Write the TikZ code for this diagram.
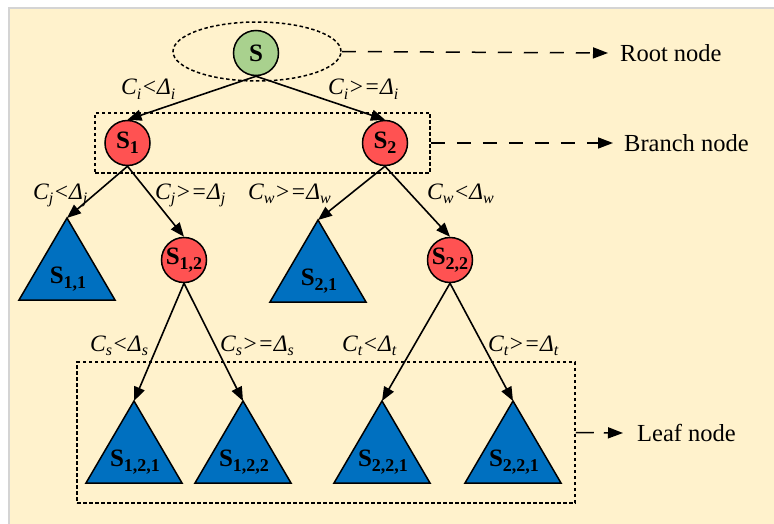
\documentclass[tikz,border=0pt]{standalone}
\usepackage{fontspec}
\setmainfont{Liberation Serif}
\usetikzlibrary{arrows.meta,shapes.geometric,calc}
\definecolor{cream}{HTML}{FFF2CC}
\definecolor{rootgreen}{HTML}{A9D18E}
\definecolor{branchred}{HTML}{FF5252}
\definecolor{leafblue}{HTML}{0070C0}
\definecolor{framegray}{HTML}{D4D4D4}
\newcommand{\bsub}[1]{\raisebox{-5pt}{\fontsize{18}{18}\selectfont #1}}
\newcommand{\isub}[1]{\raisebox{-4.5pt}{\fontsize{16}{16}\selectfont #1}}
\begin{document}
\begin{tikzpicture}[x=1pt,y=-1pt,
  txt/.style={font=\fontsize{24.5}{28}\selectfont, inner sep=0, anchor=west},
  cond/.style={font=\fontsize{23.5}{26}\selectfont\itshape, inner sep=0, anchor=base west},
  rootc/.style={circle, draw, line width=1.5pt, fill=rootgreen, minimum size=45pt, inner sep=0, font=\fontsize{25}{26}\selectfont\bfseries},
  branchc/.style={rootc, fill=branchred},
  edge/.style={line width=1.6pt, -{Triangle[length=14pt,width=11pt]}},
  tri/.style={draw, line width=1.5pt, fill=leafblue},
  tritext/.style={font=\fontsize{25}{26}\selectfont\bfseries, inner sep=0},
  dotbox/.style={draw, line width=1.5pt, dash pattern=on 3.5pt off 2.5pt, inner sep=0},
  callout/.style={line width=1.5pt, dash pattern=on 14pt off 12pt, -{Triangle[length=15pt,width=11pt]}},
]
\useasboundingbox (0,0) rectangle (774,524);
\fill[white] (0,0) rectangle (774,524);
\fill[framegray] (8,7) rectangle (774,524);
\fill[cream] (10,9) rectangle (774,524);

% group boxes
\node[dotbox, ellipse, minimum width=168pt, minimum height=59pt] (rootbox) at (257,51.5) {};
\node[dotbox, rectangle, minimum width=335pt, minimum height=60pt] (branchbox) at (262.5,143) {};
\node[dotbox, rectangle, minimum width=498pt, minimum height=141pt] (leafbox) at (326,432.5) {};

% circle nodes
\node[rootc] (S) at (256,53) {S};
\node[branchc] (S1) at (127.5,143) {S\bsub{1}};
\node[branchc] (S2) at (385,143) {S\bsub{2}};
\node[branchc] (S12) at (184,260) {S\bsub{1,2}};
\node[branchc] (S22) at (450,260) {S\bsub{2,2}};

% triangles
\newcommand{\leaftri}[4]{%
  \coordinate (#1) at (#2,#3);
  \filldraw[tri] (#1) -- ++(-48,82) -- ++(96,0) -- cycle;
  \node[tritext] (#1t) at ($(#1)+(1,61)$) {#4};}
\leaftri{T11}{67}{218}{S\bsub{1,1}}
\leaftri{T21}{318}{220}{S\bsub{2,1}}
\leaftri{T121}{134}{401}{S\bsub{1,2,1}}
\leaftri{T122}{243}{401}{S\bsub{1,2,2}}
\leaftri{T221}{382}{401}{S\bsub{2,2,1}}
\leaftri{T222}{513}{401}{S\bsub{2,2,1}}

% tree edges
\draw[edge] (S.south) -- (S1.north);
\draw[edge] (S.south) -- (S2.north);
\draw[edge] (S1.south) -- (T11);
\draw[edge] (S1.south) -- (S12.north);
\draw[edge] (S2.south) -- (T21);
\draw[edge] (S2.south) -- (S22.north);
\draw[edge] (S12.south) -- (T121);
\draw[edge] (S12.south) -- (T122);
\draw[edge] (S22.south) -- (T221);
\draw[edge] (S22.south) -- (T222);

% condition labels
\node[cond] (li1) at (121,95) {C\isub{i}<Δ\isub{i}};
\node[cond] (li2) at (328,95) {C\isub{i}>=Δ\isub{i}};
\node[cond] (lj1) at (33,199) {C\isub{j}<Δ\isub{j}};
\node[cond] (lj2) at (155,199) {C\isub{j}>=Δ\isub{j}};
\node[cond] (lw1) at (248,199) {C\isub{w}>=Δ\isub{w}};
\node[cond] (lw2) at (427,199) {C\isub{w}<Δ\isub{w}};
\node[cond] (ls1) at (90,351) {C\isub{s}<Δ\isub{s}};
\node[cond] (ls2) at (220,351) {C\isub{s}>=Δ\isub{s}};
\node[cond] (lt1) at (342,351) {C\isub{t}<Δ\isub{t}};
\node[cond] (lt2) at (488,351) {C\isub{t}>=Δ\isub{t}};

% callouts
\node[txt] (rootlbl) at (620,53) {Root node};
\node[txt] (branchlbl) at (624,143) {Branch node};
\node[txt] (leaflbl) at (637,433) {Leaf node};
\coordinate (ra) at (608,53);
\coordinate (ba) at (613,143);
\coordinate (la) at (623,433);
\draw[callout] (rootbox.east) -- (ra);
\draw[callout] (branchbox.east) -- (ba);
\draw[callout, dash pattern=on 18pt off 10pt] (leafbox.east) -- (la);
\end{tikzpicture}
\end{document}
